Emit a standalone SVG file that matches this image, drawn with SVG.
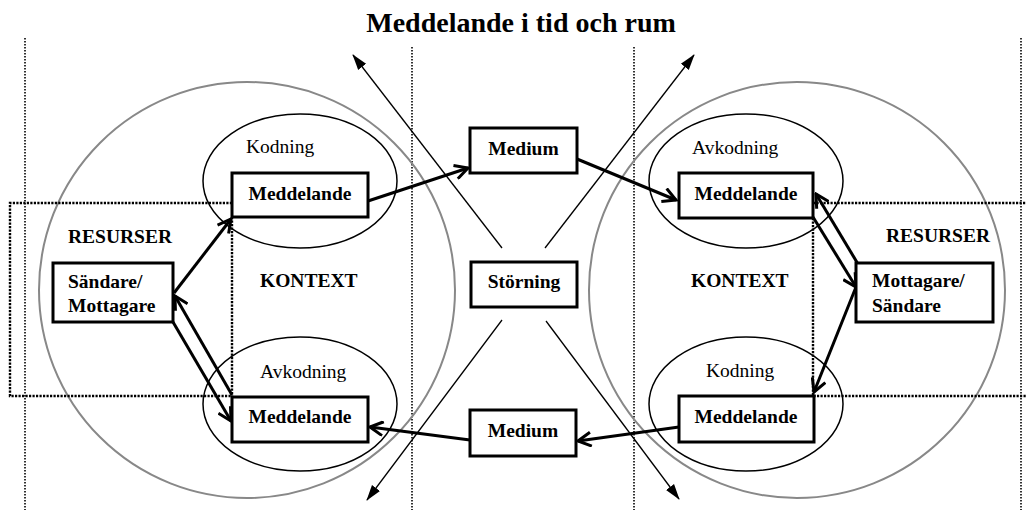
<svg xmlns="http://www.w3.org/2000/svg" width="1026" height="510" viewBox="0 0 1026 510">
  <style>
    text { font-family: "Liberation Serif", "Times New Roman", serif; fill: #000; }
    .title { font-size: 28px; font-weight: bold; }
    .lbl { font-size: 19.5px; }
    .bold { font-size: 19.5px; font-weight: bold; }
    .box { fill: #fff; stroke: #000; stroke-width: 3; }
    .ctx { fill: none; stroke: #888; stroke-width: 2; }
    .phase { fill: none; stroke: #000; stroke-width: 1.5; }
    .grid { fill: none; stroke: #000; stroke-width: 1.6; stroke-dasharray: 1.5 1.5; }
    .zone { fill: none; stroke: #000; stroke-width: 2.4; stroke-dasharray: 2.2 1.3; }
    .flow { fill: none; stroke: #000; stroke-width: 3; marker-end: url(#open); }
    .noise { fill: none; stroke: #000; stroke-width: 1.3; marker-end: url(#solid); }
  </style>
  <defs>
    <marker id="open" viewBox="0 0 16 16" refX="14" refY="8" markerWidth="16" markerHeight="16" markerUnits="userSpaceOnUse" orient="auto">
      <path d="M1,1 L14,8 L1,15" fill="none" stroke="#000" stroke-width="3"/>
    </marker>
    <marker id="solid" viewBox="0 0 16 12" refX="15" refY="6" markerWidth="16" markerHeight="12" markerUnits="userSpaceOnUse" orient="auto">
      <path d="M0,1 L16,6 L0,11 z" fill="#000"/>
    </marker>
  </defs>

  <rect width="1026" height="510" fill="#fff"/>

  <text class="title" x="521" y="32" text-anchor="middle">Meddelande i tid och rum</text>

  <!-- time/space columns -->
  <g id="columns">
    <line class="grid" x1="25" y1="38" x2="25" y2="510"/>
    <line class="grid" x1="412" y1="47" x2="412" y2="510"/>
    <line class="grid" x1="634" y1="47" x2="634" y2="510"/>
    <line class="grid" x1="1021" y1="38" x2="1021" y2="510"/>
  </g>

  <!-- context circles -->
  <g id="context-left">
    <circle class="ctx" cx="247" cy="290" r="208"/>
    <text class="bold" x="260" y="287">KONTEXT</text>
  </g>
  <g id="context-right">
    <circle class="ctx" cx="797" cy="290" r="208"/>
    <text class="bold" x="691" y="287">KONTEXT</text>
  </g>

  <!-- resource zones -->
  <g id="resources-left">
    <polyline class="zone" points="232,203 10,203 10,396 232,396"/>
    <line class="zone" x1="232" y1="217" x2="232" y2="396"/>
    <text class="bold" x="68" y="243">RESURSER</text>
  </g>
  <g id="resources-right">
    <polyline class="zone" points="813,203 1026,203"/>
    <polyline class="zone" points="813,218 813,396 1026,396"/>
    <text class="bold" x="886" y="242">RESURSER</text>
  </g>

  <!-- coding / decoding phases -->
  <g id="kodning-left">
    <ellipse class="phase" cx="300" cy="181" rx="97" ry="67"/>
    <text class="lbl" x="246" y="153">Kodning</text>
  </g>
  <g id="avkodning-left">
    <ellipse class="phase" cx="300" cy="404" rx="97" ry="67"/>
    <text class="lbl" x="260" y="378">Avkodning</text>
  </g>
  <g id="avkodning-right">
    <ellipse class="phase" cx="746" cy="181" rx="97" ry="67"/>
    <text class="lbl" x="692" y="154">Avkodning</text>
  </g>
  <g id="kodning-right">
    <ellipse class="phase" cx="746" cy="404" rx="97" ry="67"/>
    <text class="lbl" x="706" y="377">Kodning</text>
  </g>

  <!-- connectors -->
  <g id="connectors">
    <!-- noise spreading outward -->
    <line class="noise" x1="502" y1="248" x2="353" y2="55"/>
    <line class="noise" x1="545" y1="248" x2="694" y2="55"/>
    <line class="noise" x1="502" y1="320" x2="367" y2="500"/>
    <line class="noise" x1="546" y1="321" x2="679" y2="499"/>
    <!-- message flow -->
    <line class="flow" x1="174" y1="293" x2="231" y2="219"/>
    <line class="flow" x1="368" y1="201" x2="468" y2="168"/>
    <line class="flow" x1="577" y1="159" x2="676" y2="200"/>
    <line class="flow" x1="813" y1="217" x2="856" y2="287"/>
    <line class="flow" x1="858" y1="264" x2="816" y2="194"/>
    <line class="flow" x1="856" y1="287" x2="814" y2="392"/>
    <line class="flow" x1="679" y1="427" x2="578" y2="441"/>
    <line class="flow" x1="470" y1="440" x2="370" y2="427"/>
    <line class="flow" x1="232" y1="395" x2="175" y2="296"/>
    <line class="flow" x1="173" y1="322" x2="231" y2="421"/>
  </g>

  <!-- nodes -->
  <g id="sandare-mottagare">
    <rect class="box" x="53" y="263" width="120" height="59"/>
    <text class="bold" x="68" y="288">Sändare/</text>
    <text class="bold" x="68" y="312">Mottagare</text>
  </g>
  <g id="meddelande-kod-left">
    <rect class="box" x="232" y="173" width="136" height="44"/>
    <text class="bold" x="300" y="200" text-anchor="middle">Meddelande</text>
  </g>
  <g id="meddelande-avkod-left">
    <rect class="box" x="232" y="397" width="136" height="45"/>
    <text class="bold" x="300" y="423" text-anchor="middle">Meddelande</text>
  </g>
  <g id="medium-top">
    <rect class="box" x="470" y="128" width="107" height="45"/>
    <text class="bold" x="523.5" y="155" text-anchor="middle">Medium</text>
  </g>
  <g id="storning">
    <rect class="box" x="471" y="262" width="106" height="45"/>
    <text class="bold" x="524" y="288" text-anchor="middle">Störning</text>
  </g>
  <g id="medium-bottom">
    <rect class="box" x="470" y="410" width="106" height="46"/>
    <text class="bold" x="523" y="437" text-anchor="middle">Medium</text>
  </g>
  <g id="meddelande-avkod-right">
    <rect class="box" x="679" y="173" width="134" height="45"/>
    <text class="bold" x="746" y="200" text-anchor="middle">Meddelande</text>
  </g>
  <g id="mottagare-sandare">
    <rect class="box" x="856" y="263" width="137" height="59"/>
    <text class="bold" x="872" y="287">Mottagare/</text>
    <text class="bold" x="872" y="312">Sändare</text>
  </g>
  <g id="meddelande-kod-right">
    <rect class="box" x="679" y="396" width="135" height="46"/>
    <text class="bold" x="746" y="423" text-anchor="middle">Meddelande</text>
  </g>
</svg>
